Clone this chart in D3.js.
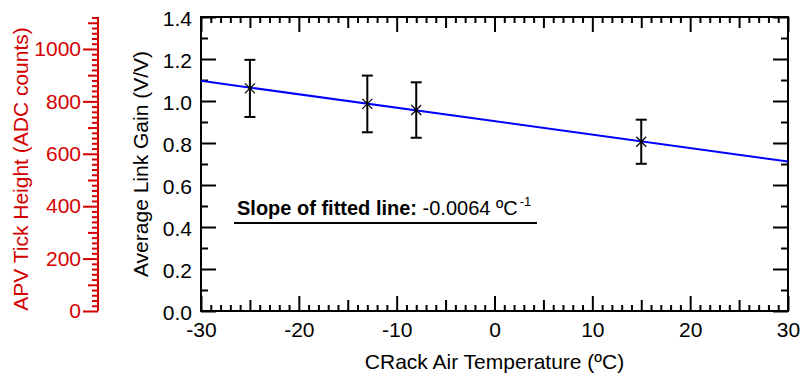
<!DOCTYPE html>
<html>
<head>
<meta charset="utf-8">
<script src="https://cdn.jsdelivr.net/npm/d3@7"></script>
<style>
  body { margin: 0; background: #fff; }
  svg text { font-family: "Liberation Sans", Arial, sans-serif; }
</style>
</head>
<body>
<div id="chart"></div>
<script>
// data
const temperatures = [-25, -13, -8, 15];
const gains = [1.06, 0.986, 0.957, 0.806];
const gainErrors = [0.136, 0.135, 0.132, 0.105];
const fitSlope = -0.0064;
const fitIntercept = 0.904;

const xTicks = [-30, -20, -10, 0, 10, 20, 30];
const yTicks = [0, 0.2, 0.4, 0.6, 0.8, 1.0, 1.2, 1.4];
const adcTicks = [0, 200, 400, 600, 800, 1000];
const adcMax = 1122;

const W = 802, H = 376;
const m = { left: 201, right: 14, top: 17, bottom: 65 };
const red = '#d40000';
const fs = 21;

const svg = d3.select('#chart').append('svg').attr('width', W).attr('height', H);

const x = d3.scaleLinear().domain([-30, 30]).range([m.left, W - m.right]);
const y = d3.scaleLinear().domain([0, 1.4]).range([H - m.bottom, m.top]);
const adc = d3.scaleLinear().domain([0, adcMax]).range([H - m.bottom, m.top]);

const x0 = x.range()[0], x1 = x.range()[1];
const y0 = y.range()[0], y1 = y.range()[1];

function style(g, color, labels) {
  g.select('.domain').remove();
  g.selectAll('line').attr('stroke', color).attr('stroke-width', 2);
  g.selectAll('text').attr('fill', color).style('font-size', fs + 'px');
  if (!labels) g.selectAll('text').remove();
}

// x ticks: major every 10, medium every 5, minor every 1
const xMid = d3.range(-25, 30, 10);
const xMinor = d3.range(-30, 31, 1).filter(v => v % 5 !== 0);
const yMinor = d3.range(0.1, 1.4, 0.2);

[[xTicks, 15, true], [xMid, 11, false], [xMinor, 6, false]].forEach(([vals, len, lab]) => {
  svg.append('g').attr('transform', `translate(0,${y0})`)
    .call(d3.axisBottom(x).tickValues(vals).tickSize(-len).tickSizeOuter(0).tickPadding(11).tickFormat(d => String(d)))
    .call(g => style(g, '#000', lab));
  svg.append('g').attr('transform', `translate(0,${y1})`)
    .call(d3.axisTop(x).tickValues(vals).tickSize(-len).tickSizeOuter(0))
    .call(g => style(g, '#000', false));
});

[[yTicks, 15, true], [yMinor, 7, false]].forEach(([vals, len, lab]) => {
  svg.append('g').attr('transform', `translate(${x0},0)`)
    .call(d3.axisLeft(y).tickValues(vals).tickSize(-len).tickSizeOuter(0).tickPadding(9).tickFormat(d3.format('.1f')))
    .call(g => style(g, '#000', lab))
    .call(g => g.selectAll('text').attr('dy', '0.42em'));
  svg.append('g').attr('transform', `translate(${x1},0)`)
    .call(d3.axisRight(y).tickValues(vals).tickSize(-len).tickSizeOuter(0))
    .call(g => style(g, '#000', false));
});

// frame
svg.append('rect')
  .attr('x', x0).attr('y', y1).attr('width', x1 - x0).attr('height', y0 - y1)
  .attr('fill', 'none').attr('stroke', '#000').attr('stroke-width', 2);

// red secondary axis
const redX = 98;
const adcMid = d3.range(100, adcMax, 200);
const adcMinor = d3.range(0, adcMax, 20).filter(v => v % 100 !== 0);
[[adcTicks, 15, true], [adcMid, 10, false], [adcMinor, 6, false]].forEach(([vals, len, lab]) => {
  svg.append('g').attr('transform', `translate(${redX},0)`)
    .call(d3.axisLeft(adc).tickValues(vals).tickSize(len).tickSizeOuter(0).tickPadding(2).tickFormat(d => String(d)))
    .call(g => style(g, red, lab));
});
svg.append('line').attr('x1', redX).attr('x2', redX).attr('y1', y1).attr('y2', y0)
  .attr('stroke', red).attr('stroke-width', 2);

// fitted line
svg.append('line')
  .attr('x1', x(-30)).attr('y1', y(fitIntercept + fitSlope * -30))
  .attr('x2', x(30)).attr('y2', y(fitIntercept + fitSlope * 30))
  .attr('stroke', '#0000ff').attr('stroke-width', 2);

// error bars and markers
const pts = temperatures.map((t, i) => ({ t, g: gains[i], e: gainErrors[i] }));
const pg = svg.append('g').attr('stroke', '#000');
pts.forEach(p => {
  const cx = x(p.t), hi = y(p.g + p.e), lo = y(p.g - p.e), cy = y(p.g);
  pg.append('line').attr('x1', cx).attr('x2', cx).attr('y1', hi).attr('y2', lo).attr('stroke-width', 2);
  pg.append('line').attr('x1', cx - 5.5).attr('x2', cx + 5.5).attr('y1', hi).attr('y2', hi).attr('stroke-width', 2);
  pg.append('line').attr('x1', cx - 5.5).attr('x2', cx + 5.5).attr('y1', lo).attr('y2', lo).attr('stroke-width', 2);
  pg.append('path').attr('d', `M${cx - 5},${cy - 5}L${cx + 5},${cy + 5}M${cx - 5},${cy + 5}L${cx + 5},${cy - 5}`)
    .attr('stroke-width', 1.2).attr('fill', 'none');
  pg.append('circle').attr('cx', cx).attr('cy', cy).attr('r', 1.5).attr('fill', '#000').attr('stroke', 'none');
});

// annotation
const note = svg.append('text').attr('x', 237).attr('y', 215).style('font-size', '20px').attr('fill', '#000');
note.append('tspan').attr('font-weight', 'bold').text('Slope of fitted line:');
note.append('tspan').text(' ' + fitSlope.toFixed(4) + ' ºC');
note.append('tspan').attr('dx', 2).attr('dy', -9).style('font-size', '13px').text('-1');
svg.append('line').attr('x1', 234).attr('x2', 537).attr('y1', 223).attr('y2', 223)
  .attr('stroke', '#000').attr('stroke-width', 2);

// axis titles
svg.append('text').attr('x', (x0 + x1) / 2).attr('y', 369).attr('text-anchor', 'middle')
  .style('font-size', fs + 'px').text('CRack Air Temperature (ºC)');
svg.append('text').attr('transform', `translate(148,${(y0 + y1) / 2}) rotate(-90)`).attr('text-anchor', 'middle')
  .style('font-size', fs + 'px').text('Average Link Gain (V/V)');
svg.append('text').attr('transform', `translate(28,${(y0 + y1) / 2 + 5}) rotate(-90)`).attr('text-anchor', 'middle')
  .style('font-size', fs + 'px').attr('fill', red).text('APV Tick Height (ADC counts)');
</script>
</body>
</html>
